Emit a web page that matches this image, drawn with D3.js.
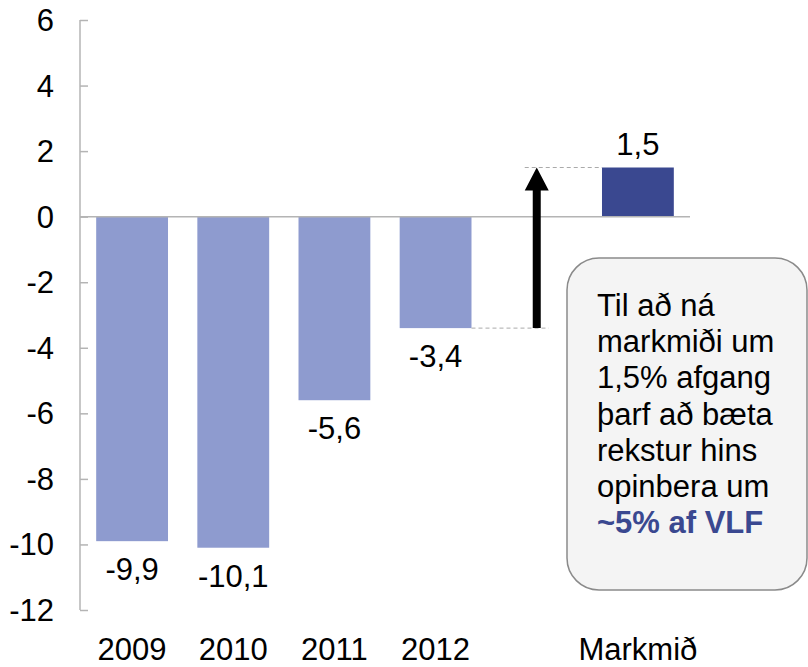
<!DOCTYPE html>
<html>
<head>
<meta charset="utf-8">
<script src="https://cdn.jsdelivr.net/npm/d3@7"></script>
<style>
  body { margin: 0; background: #fff; }
  svg { display: block; font-family: "Liberation Sans", Arial, sans-serif; }
</style>
</head>
<body>
<svg id="chart" width="808" height="667"></svg>
<script>
// 数据
var categories = ['2009', '2010', '2011', '2012', 'gap', 'Markmið'];
var catLabels = ['2009', '2010', '2011', '2012', '', 'Markmið'];
var values = [-9.9, -10.1, -5.6, -3.4, null, 1.5];
var valueLabels = ['-9,9', '-10,1', '-5,6', '-3,4', '', '1,5'];
var yTicks = [6, 4, 2, 0, -2, -4, -6, -8, -10, -12];
var noteLines = ['Til að ná', 'markmiði um', '1,5% afgang', 'þarf að bæta', 'rekstur hins', 'opinbera um'];
var noteBold = '~5% af VLF';

var lightBlue = '#8E9BCF',
    darkBlue = '#3A4890',
    axisGray = '#B4B4B4';

var svg = d3.select('#chart');

// 比例尺
var x = d3.scaleBand()
    .domain(categories)
    .range([80, 690])
    .paddingInner(0.29)
    .paddingOuter(0.16);
var y = d3.scaleLinear()
    .domain([-12, 6])
    .range([610, 20]);

// y 轴
var yAxis = d3.axisRight(y).tickValues(yTicks).tickSize(8).tickFormat('');
var yg = svg.append('g').attr('transform', 'translate(80,0)').call(yAxis);
yg.select('.domain').attr('stroke', axisGray).attr('stroke-width', 1.5).attr('d', 'M0,' + y(6) + 'V' + y(-12));
yg.selectAll('.tick line').attr('stroke', axisGray).attr('stroke-width', 1.5);

svg.append('g').selectAll('text')
    .data(yTicks)
    .enter()
    .append('text')
    .attr('x', 54)
    .attr('y', function(d) { return y(d) + 11; })
    .attr('text-anchor', 'end')
    .attr('font-size', 31)
    .attr('fill', '#000')
    .text(function(d) { return d; });

// 柱子
var barData = categories.map(function(c, i) {
    return { cat: c, value: values[i], label: valueLabels[i] };
}).filter(function(d) { return d.value !== null; });

svg.append('g').selectAll('rect')
    .data(barData)
    .enter()
    .append('rect')
    .attr('x', function(d) { return x(d.cat); })
    .attr('y', function(d) { return y(Math.max(0, d.value)); })
    .attr('width', x.bandwidth())
    .attr('height', function(d) { return Math.abs(y(d.value) - y(0)); })
    .attr('fill', function(d) { return d.value > 0 ? darkBlue : lightBlue; });

// 零线
svg.append('line')
    .attr('x1', 80).attr('x2', 690)
    .attr('y1', y(0)).attr('y2', y(0))
    .attr('stroke', axisGray).attr('stroke-width', 1.5);

// 数值标签
svg.append('g').selectAll('text')
    .data(barData)
    .enter()
    .append('text')
    .attr('x', function(d) { return x(d.cat) + x.bandwidth() / 2; })
    .attr('y', function(d) { return d.value > 0 ? y(d.value) - 13 : y(d.value) + 39; })
    .attr('text-anchor', 'middle')
    .attr('font-size', 31)
    .text(function(d) { return d.label; });

// x 轴标签
svg.append('g').selectAll('text')
    .data(categories)
    .enter()
    .append('text')
    .attr('x', function(d) { return x(d) + x.bandwidth() / 2; })
    .attr('y', 660)
    .attr('text-anchor', 'middle')
    .attr('font-size', 31)
    .text(function(d, i) { return catLabels[i]; });

// 箭头和虚线
var ax = x('gap') + x.bandwidth() / 2;
var yFrom = y(values[3]), yTo = y(values[5]);
svg.append('line')
    .attr('x1', x('2012') + x.bandwidth()).attr('x2', ax + 12)
    .attr('y1', yFrom).attr('y2', yFrom)
    .attr('stroke', '#AAAAAA').attr('stroke-dasharray', '4,3');
svg.append('line')
    .attr('x1', ax - 12).attr('x2', x('Markmið'))
    .attr('y1', yTo).attr('y2', yTo)
    .attr('stroke', '#AAAAAA').attr('stroke-dasharray', '4,3');

var arrow = d3.path();
arrow.moveTo(ax - 4, yFrom);
arrow.lineTo(ax - 4, yTo + 23);
arrow.lineTo(ax - 12, yTo + 23);
arrow.lineTo(ax, yTo);
arrow.lineTo(ax + 12, yTo + 23);
arrow.lineTo(ax + 4, yTo + 23);
arrow.lineTo(ax + 4, yFrom);
arrow.closePath();
svg.append('path').attr('d', arrow.toString()).attr('fill', '#000');

// 说明框
svg.append('rect')
    .attr('x', 567).attr('y', 258)
    .attr('width', 240).attr('height', 332)
    .attr('rx', 32).attr('ry', 32)
    .attr('fill', '#F4F4F4')
    .attr('stroke', '#8A8A8A').attr('stroke-width', 1.5);

var note = svg.append('g');
note.selectAll('text')
    .data(noteLines)
    .enter()
    .append('text')
    .attr('x', 597)
    .attr('y', function(d, i) { return 316 + i * 36.2; })
    .attr('font-size', 31)
    .text(function(d) { return d; });
note.append('text')
    .attr('x', 597)
    .attr('y', 316 + 6 * 36.2)
    .attr('font-size', 31)
    .attr('font-weight', 'bold')
    .attr('fill', darkBlue)
    .text(noteBold);
</script>
</body>
</html>
